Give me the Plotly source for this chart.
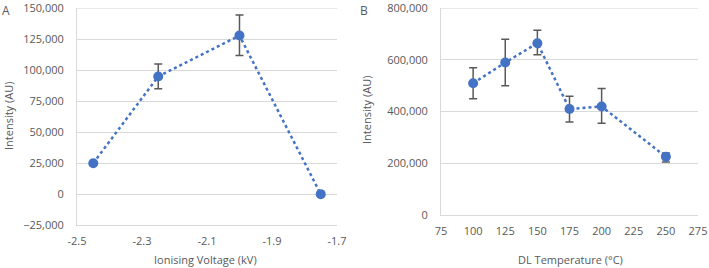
import plotly.graph_objects as go

# Panel A data
voltage = [-2.45, -2.25, -2.0, -1.75]
intensity_a = [25000, 95000, 128000, 0]
err_a_plus = [1000, 10000, 16500, 1000]
err_a_minus = [1000, 10000, 16000, 1000]

# Panel B data
temperature = [100, 125, 150, 175, 200, 250]
intensity_b = [510000, 590000, 665000, 410000, 420000, 225000]
err_b_plus = [60000, 90000, 50000, 50000, 70000, 15000]
err_b_minus = [60000, 90000, 45000, 50000, 65000, 20000]

xticks_a = [-2.5, -2.3, -2.1, -1.9, -1.7]
xtick_labels_a = ["-2.5", "-2.3", "-2.1", "-1.9", "-1.7"]
yticks_a = [-25000, 0, 25000, 50000, 75000, 100000, 125000, 150000]
xticks_b = [75, 100, 125, 150, 175, 200, 225, 250, 275]
yticks_b = [0, 200000, 400000, 600000, 800000]

BLUE = "#4472C4"
GREY = "#595959"
GRID = "#D9D9D9"
FONT = "Open Sans"

fig = go.Figure()

fig.add_trace(go.Scatter(
    x=voltage, y=intensity_a, mode="lines+markers",
    line=dict(color=BLUE, width=2.5, dash="dot"),
    marker=dict(color=BLUE, size=10),
    error_y=dict(type="data", symmetric=False, array=err_a_plus, arrayminus=err_a_minus,
                 color=GREY, thickness=1.5, width=4),
    xaxis="x", yaxis="y", showlegend=False, cliponaxis=False))

fig.add_trace(go.Scatter(
    x=temperature, y=intensity_b, mode="lines+markers",
    line=dict(color=BLUE, width=2.5, dash="dot"),
    marker=dict(color=BLUE, size=10),
    error_y=dict(type="data", symmetric=False, array=err_b_plus, arrayminus=err_b_minus,
                 color=GREY, thickness=1.5, width=4),
    xaxis="x2", yaxis="y2", showlegend=False, cliponaxis=False))

axis_common = dict(showline=True, linecolor=GRID, linewidth=1, ticks="", automargin=False,
                   ticklabeloverflow="allow",
                   tickfont=dict(family=FONT, size=11, color=GREY), zeroline=False)

fig.update_layout(
    template="none",
    width=709, height=268,
    autosize=False,
    margin=dict(l=0, r=0, t=0, b=0, pad=0),
    paper_bgcolor="white", plot_bgcolor="white",
    font=dict(family=FONT, size=11, color=GREY),
    xaxis=dict(domain=[0.1086, 0.4753], range=[-2.5, -1.7], tickvals=xticks_a,
               ticktext=xtick_labels_a, showgrid=False, anchor="y",
               ticklabelstandoff=6, **axis_common),
    yaxis=dict(domain=[0.160, 0.969], range=[-25000, 150000], tickvals=yticks_a,
               tickformat=",", showgrid=True, gridcolor=GRID, anchor="x",
               ticklabelstandoff=10, **axis_common),
    xaxis2=dict(domain=[0.622, 0.9845], range=[75, 275], tickvals=xticks_b, showgrid=False,
                anchor="y2", ticklabelstandoff=6, **axis_common),
    yaxis2=dict(domain=[0.198, 0.969], range=[0, 800000], tickvals=yticks_b,
                tickformat=",", showgrid=True, gridcolor=GRID, anchor="x2",
                ticklabelstandoff=10, **axis_common),
)

# top gridlines (plotly hides gridlines at the range ends)
fig.add_shape(type="line", xref="x domain", yref="y", x0=0, x1=1,
              y0=yticks_a[-1], y1=yticks_a[-1], line=dict(color=GRID, width=1), layer="below")
fig.add_shape(type="line", xref="x2 domain", yref="y2", x0=0, x1=1,
              y0=yticks_b[-1], y1=yticks_b[-1], line=dict(color=GRID, width=1), layer="below")

W, H = 709, 268
def px(xp, yp):
    return xp / W, 1 - yp / H

ann = []
for text, xp, yp, angle in [
    ("A", 6, 10, 0),
    ("B", 364, 10, 0),
    ("Intensity (AU)", 9, 116, -90),
    ("Intensity (AU)", 367, 110, -90),
    ("Ionising Voltage (kV)", 205, 259, 0),
    ("DL Temperature (°C)", 570, 259, 0),
]:
    xx, yy = px(xp, yp)
    ann.append(dict(text=text, x=xx, y=yy, xref="paper", yref="paper", showarrow=False,
                    xanchor="center", yanchor="middle", textangle=angle,
                    font=dict(family=FONT, size=12 if len(text) == 1 else 11, color=GREY)))
fig.update_layout(annotations=ann)

fig.write_html("out.html")
